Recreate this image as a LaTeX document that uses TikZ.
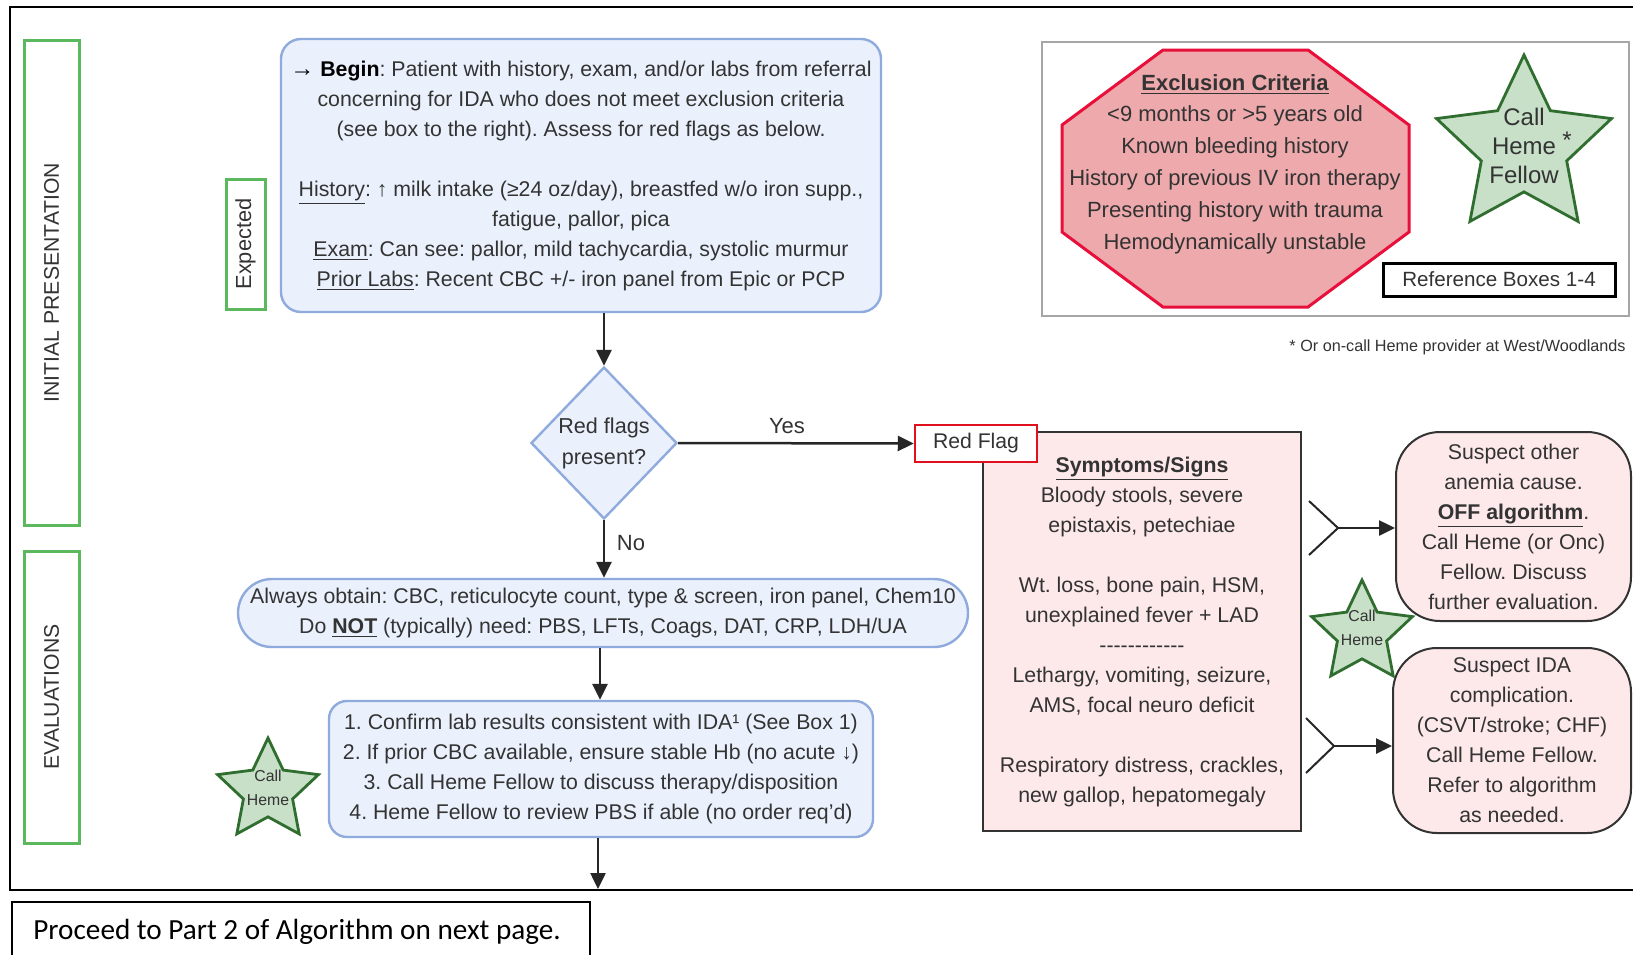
\documentclass[tikz,border=0pt]{standalone}
\usepackage{fontspec}
\setmainfont{Liberation Sans}
\newfontfamily\calibri{Carlito}
\usetikzlibrary{arrows.meta,shapes.geometric}
\definecolor{tcol}{HTML}{333333}
\definecolor{sidegreen}{HTML}{5CB85C}
\definecolor{bborder}{HTML}{8FAADC}
\definecolor{bfill}{HTML}{EBF1FC}
\definecolor{pfill}{HTML}{FDE9EA}
\definecolor{octfill}{HTML}{EDA9AC}
\definecolor{octred}{HTML}{E8103A}
\definecolor{flagred}{HTML}{E0101E}
\definecolor{stargreen}{HTML}{2F6E2F}
\definecolor{starfill}{HTML}{C8DFC8}
\newcommand\fs{\fontsize{10.65}{15}\selectfont}
\frenchspacing
\tikzset{
  txt/.style={text=tcol, align=center, font=\fs, inner sep=0pt},
  sidebox/.style={draw=sidegreen, line width=1.5pt, inner sep=0pt, text=tcol},
  bluebox/.style={draw=bborder, fill=bfill, line width=1.2pt, inner sep=0pt, txt},
  pinkbox/.style={draw=black!80, fill=pfill, line width=1pt, inner sep=0pt, txt},
  starnode/.style={star, star points=5, star point ratio=2.05, draw=stargreen, fill=starfill, line width=1.4pt, inner sep=0pt},
  startext/.style={align=center, text=tcol, inner sep=0pt},
  arr/.style={line width=1.25pt, draw=black!85, -{Triangle[length=8pt,width=7.5pt]}},
  forkline/.style={line width=1pt, draw=black!85},
}
\begin{document}
\frenchspacing
\begin{tikzpicture}[x=0.5pt,y=-0.5pt]
\useasboundingbox (0,0) rectangle (1633,954);
\clip (0,0) rectangle (1633,954);
\fill[white] (0,0) rectangle (1633,954);

% outer frame
\draw[line width=1pt, black] (1650,7) -- (10,7) -- (10,890) -- (1650,890);

% bottom note
\draw[line width=1pt, black] (12,975) -- (12,902) -- (590,902) -- (590,975);
\node[anchor=west, inner sep=0pt, font=\calibri\fontsize{14.6}{17}\selectfont] (note) at (33,932) {Proceed to Part 2 of Algorithm on next page.};

% sidebars
\node[sidebox, minimum width=27.5pt, minimum height=242.5pt] (side1) at (51.5,282.5) {};
\node[rotate=90, text=tcol, font=\fontsize{10.6}{13}\selectfont, inner sep=0pt] (side1t) at (side1.center) {INITIAL PRESENTATION};
\node[sidebox, minimum width=27.5pt, minimum height=146pt] (side2) at (51.5,697) {};
\node[rotate=90, text=tcol, font=\fontsize{10.6}{13}\selectfont, inner sep=0pt] (side2t) at (side2.center) {EVALUATIONS};
\node[sidebox, minimum width=19.5pt, minimum height=65pt] (exp) at (245.5,244) {};
\node[rotate=90, text=tcol, font=\fontsize{10.9}{13}\selectfont, inner sep=0pt] (expt) at (exp.center) {Expected};

% begin box
\node[bluebox, rounded corners=10pt, minimum width=300pt, minimum height=136.5pt] (begin) at (581,175.5)
{\textcolor{black}{\textbf{{\large→} Begin}}: Patient with history, exam, and/or labs from referral\\
concerning for IDA who does not meet exclusion criteria\\
(see box to the right). Assess for red flags as below.\\[15pt]
\underline{History}: ↑ milk intake (≥24 oz/day), breastfed w/o iron supp.,\\
fatigue, pallor, pica\\
\underline{Exam}: Can see: pallor, mild tachycardia, systolic murmur\\
\underline{Prior Labs}: Recent CBC +/- iron panel from Epic or PCP};

% diamond
\node[diamond, draw=bborder, fill=bfill, line width=1.2pt, inner sep=0pt, minimum width=73pt, minimum height=76pt, text=tcol, align=center, font=\fontsize{10.8}{15.5}\selectfont] (dia) at (604,443) {Red flags\\present?};

% symptoms box
\node[pinkbox, minimum width=159pt, minimum height=199.5pt] (symp) at (1142,631.5)
{\textbf{\underline{Symptoms/Signs}}\\
Bloody stools, severe\\
epistaxis, petechiae\\[15pt]
Wt. loss, bone pain, HSM,\\
unexplained fever + LAD\\
-{}-{}-{}-{}-{}-{}-{}-{}-{}-{}-{}-\\
Lethargy, vomiting, seizure,\\
AMS, focal neuro deficit\\[15pt]
Respiratory distress, crackles,\\
new gallop, hepatomegaly};

% red flag box
\node[draw=flagred, fill=white, line width=1.25pt, inner sep=0pt, minimum width=61pt, minimum height=18.5pt, text=tcol, font=\fontsize{10.6}{13}\selectfont] (flag) at (976,443.5) {\raisebox{-0.6pt}{Red Flag}};

% always box
\node[bluebox, rounded corners=17pt, minimum width=365pt, minimum height=34pt] (always) at (603,613)
{Always obtain: CBC, reticulocyte count, type \& screen, iron panel, Chem10\\
Do \textbf{\underline{NOT}} (typically) need: PBS, LFTs, Coags, DAT, CRP, LDH/UA};

% confirm box
\node[bluebox, rounded corners=9pt, minimum width=272pt, minimum height=68pt] (confirm) at (601,769)
{1. Confirm lab results consistent with IDA¹ (See Box 1)\\
2. If prior CBC available, ensure stable Hb (no acute ↓)\\
3. Call Heme Fellow to discuss therapy/disposition\\
4. Heme Fellow to review PBS if able (no order req'd)};

% right boxes
\node[pinkbox, rounded corners=22pt, minimum width=117.5pt, minimum height=94.5pt] (other) at (1513.5,526.5)
{Suspect other\\
anemia cause.\\
\textbf{\underline{OFF algorithm}}.\\
Call Heme (or Onc)\\
Fellow. Discuss\\
further evaluation.};
\node[pinkbox, rounded corners=22pt, minimum width=119pt, minimum height=92.5pt] (comp) at (1512,740.5)
{Suspect IDA\\
complication.\\
(CSVT/stroke; CHF)\\
Call Heme Fellow.\\
Refer to algorithm\\
as needed.};

% exclusion area
\draw[draw=black!35, line width=0.8pt] (1042,42) rectangle (1629,316);
\path[draw=octred, fill=octfill, line width=1.5pt, line join=miter] (1163,50) -- (1308,50) -- (1409,125) -- (1409,232) -- (1308,307) -- (1163,307) -- (1062,232) -- (1062,125) -- cycle;
\node[text=tcol, align=center, inner sep=0pt, font=\fontsize{11}{15.9}\selectfont] (excl) at (1235,164)
{\textbf{\underline{Exclusion Criteria}}\\
<9 months or >5 years old\\
Known bleeding history\\
History of previous IV iron therapy\\
Presenting history with trauma\\
Hemodynamically unstable};
\node[draw=black, line width=1.5pt, fill=white, inner sep=0pt, minimum width=116pt, minimum height=16.5pt, text=tcol, font=\fontsize{10.3}{12}\selectfont] (refbox) at (1499,279.5) {Reference Boxes 1-4};
\node[starnode, minimum size=92pt] (bigstar) at (1524,147) {};
\node[startext, font=\fontsize{12}{14.5}\selectfont] (bigstart) at (1524,146) {Call\\Heme\\Fellow};
\node[text=tcol, inner sep=0pt, font=\fontsize{12}{14}\selectfont] (aster) at (1567,140) {*};
\node[anchor=east, text=tcol, inner sep=0pt, font=\fontsize{8.1}{10}\selectfont] (foot) at (1626,347) {* Or on-call Heme provider at West/Woodlands};

% small stars
\node[starnode, minimum size=53pt] (star1) at (268,791) {};
\node[startext, font=\fontsize{7.9}{12}\selectfont] (star1t) at (268,788) {Call\\Heme};
\node[starnode, minimum size=53pt] (star2) at (1362,633) {};
\node[startext, font=\fontsize{7.9}{12}\selectfont] (star2t) at (1362,628) {Call\\Heme};

% connectors
\draw[arr] (begin.south -| dia.north) -- (dia.north);
\draw[arr] (dia.east) -- (flag.west);
\node[text=tcol, inner sep=0pt, font=\fontsize{11}{13}\selectfont] (yes) at (787,426) {Yes};
\draw[arr] (dia.south) -- (always.north -| dia.south);
\node[text=tcol, inner sep=0pt, font=\fontsize{11}{13}\selectfont] (no) at (631,543) {No};
\draw[arr] (always.south -| 600,0) -- (confirm.north -| 600,0);
\coordinate (endpt) at (598,889);
\draw[arr] (confirm.south -| endpt) -- (endpt);

% forks
\coordinate (forkA) at (1338,528);
\draw[forkline] (1309,501) -- (forkA) -- (1309,555);
\draw[arr] (forkA) -- (other.west |- forkA);
\coordinate (forkB) at (1334,746);
\draw[forkline] (1306,718) -- (forkB) -- (1306,773);
\draw[arr] (forkB) -- (comp.west |- forkB);
\end{tikzpicture}
\end{document}
